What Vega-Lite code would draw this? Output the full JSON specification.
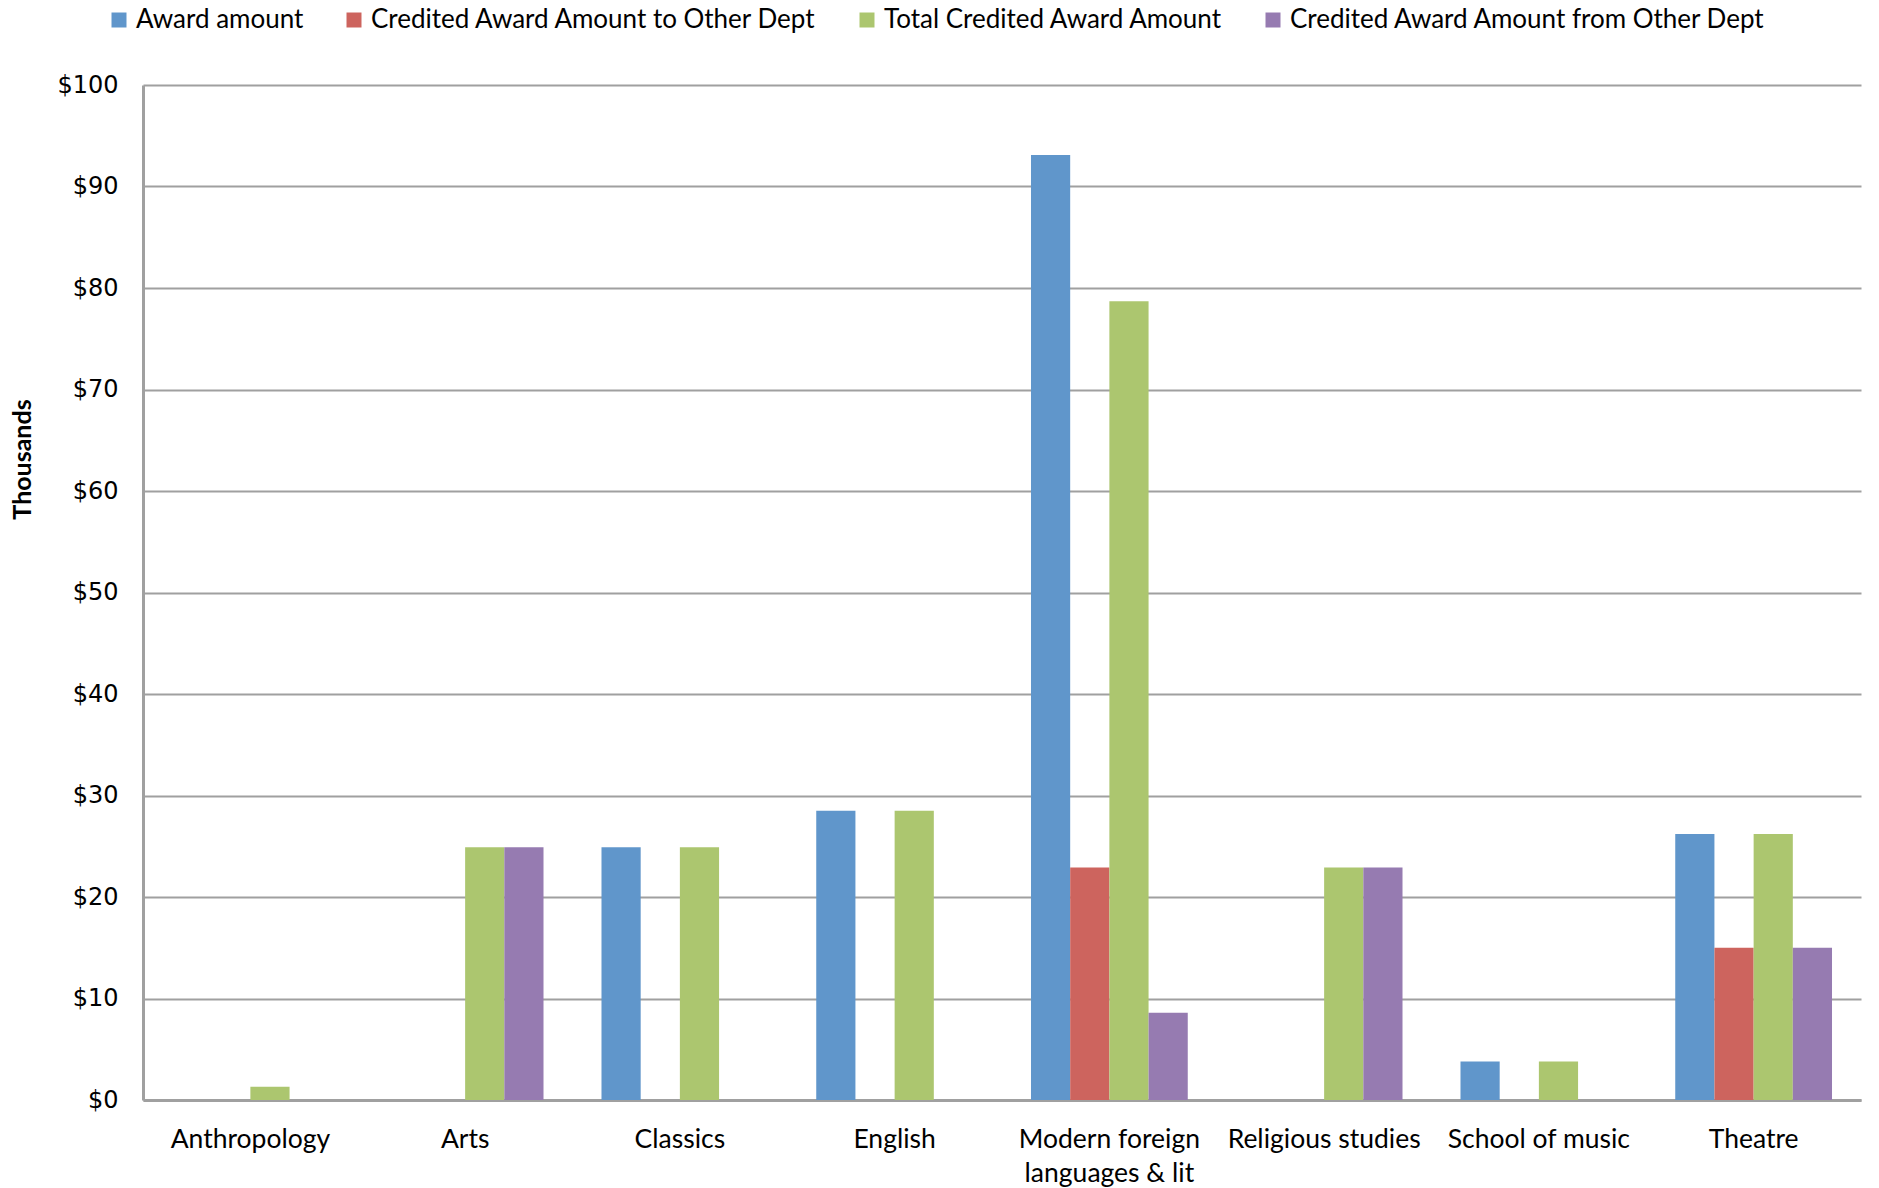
{
  "$schema": "https://vega.github.io/schema/vega-lite/v6.json",
  "autosize": "none",
  "width": 1718,
  "height": 1015,
  "padding": {"left": 143, "top": 85, "right": 18, "bottom": 88},
  "background": "white",
  "data": {
    "values": [
      {"dept": "Anthropology", "series": "Total Credited Award Amount", "amount": 1.3},
      {"dept": "Arts", "series": "Total Credited Award Amount", "amount": 24.9},
      {"dept": "Arts", "series": "Credited Award Amount from Other Dept", "amount": 24.9},
      {"dept": "Classics", "series": "Award amount", "amount": 24.9},
      {"dept": "Classics", "series": "Total Credited Award Amount", "amount": 24.9},
      {"dept": "English", "series": "Award amount", "amount": 28.5},
      {"dept": "English", "series": "Total Credited Award Amount", "amount": 28.5},
      {"dept": "Modern foreign languages & lit", "series": "Award amount", "amount": 93.1},
      {"dept": "Modern foreign languages & lit", "series": "Credited Award Amount to Other Dept", "amount": 22.9},
      {"dept": "Modern foreign languages & lit", "series": "Total Credited Award Amount", "amount": 78.7},
      {"dept": "Modern foreign languages & lit", "series": "Credited Award Amount from Other Dept", "amount": 8.6},
      {"dept": "Religious studies", "series": "Total Credited Award Amount", "amount": 22.9},
      {"dept": "Religious studies", "series": "Credited Award Amount from Other Dept", "amount": 22.9},
      {"dept": "School of music", "series": "Award amount", "amount": 3.8},
      {"dept": "School of music", "series": "Total Credited Award Amount", "amount": 3.8},
      {"dept": "Theatre", "series": "Award amount", "amount": 26.2},
      {"dept": "Theatre", "series": "Credited Award Amount to Other Dept", "amount": 15.0},
      {"dept": "Theatre", "series": "Total Credited Award Amount", "amount": 26.2},
      {"dept": "Theatre", "series": "Credited Award Amount from Other Dept", "amount": 15.0}
    ]
  },
  "mark": {"type": "bar"},
  "encoding": {
    "x": {
      "field": "dept",
      "type": "nominal",
      "sort": ["Anthropology", "Arts", "Classics", "English", "Modern foreign languages & lit", "Religious studies", "School of music", "Theatre"],
      "scale": {"paddingInner": 0.27, "paddingOuter": 0.135},
      "axis": {
        "title": null,
        "labelAngle": 0,
        "labelFont": "Lato",
        "labelFontSize": 26.5,
        "labelColor": "#000000",
        "labelPadding": 26,
        "labelLineHeight": 34,
        "labelLimit": 0,
        "labelExpr": "datum.label == 'Modern foreign languages & lit' ? ['Modern foreign', 'languages & lit'] : datum.label",
        "ticks": false,
        "domainColor": "#a0a0a0",
        "domainWidth": 3,
        "grid": false
      }
    },
    "xOffset": {
      "field": "series",
      "type": "nominal",
      "scale": {"domain": ["Award amount", "Credited Award Amount to Other Dept", "Total Credited Award Amount", "Credited Award Amount from Other Dept"], "paddingInner": 0, "paddingOuter": 0}
    },
    "y": {
      "field": "amount",
      "type": "quantitative",
      "scale": {"domain": [0, 100], "nice": false},
      "axis": {
        "title": "Thousands",
        "titleFont": "Lato",
        "titleFontSize": 25,
        "titleFontWeight": "bold",
        "titleColor": "#000000",
        "titleAngle": -90,
        "titleX": -121,
        "titleY": 374,
        "titleAlign": "center",
        "titleBaseline": "middle",
        "values": [0, 10, 20, 30, 40, 50, 60, 70, 80, 90, 100],
        "format": "$,.0f",
        "labelFont": "DejaVu Sans",
        "labelFontSize": 24,
        "labelColor": "#000000",
        "labelPadding": 25,
        "labelLimit": 0,
        "ticks": false,
        "domainColor": "#a0a0a0",
        "domainWidth": 3,
        "grid": true,
        "gridColor": "#a0a0a0",
        "gridWidth": 2
      }
    },
    "color": {
      "field": "series",
      "type": "nominal",
      "scale": {
        "domain": ["Award amount", "Credited Award Amount to Other Dept", "Total Credited Award Amount", "Credited Award Amount from Other Dept"],
        "range": ["#6096cb", "#cd645e", "#acc66f", "#967bb1"]
      },
      "legend": {
        "title": null,
        "orient": "none",
        "direction": "horizontal",
        "legendX": -37,
        "legendY": -78,
        "symbolType": "square",
        "symbolSize": 225,
        "symbolStrokeWidth": 0,
        "symbolOpacity": 1,
        "labelFont": "Lato",
        "labelFontSize": 26,
        "labelColor": "#000000",
        "labelOffset": 4,
        "labelLimit": 0,
        "columnPadding": 37
      }
    }
  },
  "config": {
    "view": {"stroke": null}
  }
}
